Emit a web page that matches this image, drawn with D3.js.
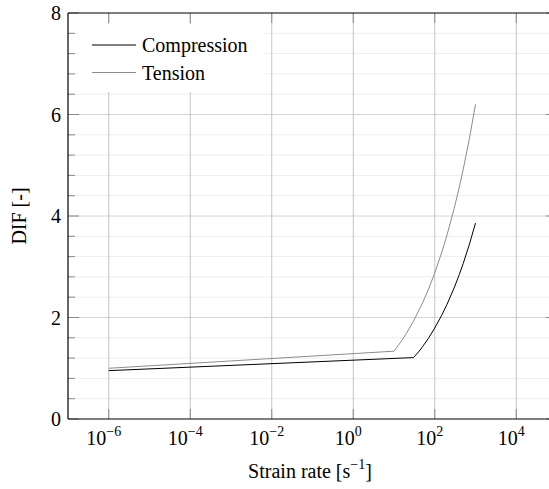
<!DOCTYPE html>
<html>
<head>
<meta charset="utf-8">
<script src="https://cdn.jsdelivr.net/npm/d3@7"></script>
<style>
    body { margin: 0; background: #fff; }
</style>
</head>
<body>
<svg id="dif_plot" width="549" height="489" font-family="'Liberation Serif', 'Times New Roman', Times, 'DejaVu Serif', serif"></svg>
<script>
// values
const seriesNames = ["Compression", "Tension"];

const compressionRate = [1e-6, 30, 40, 50, 70, 100, 150, 200, 300, 400, 500, 700, 1000];
const compressionDif  = [0.953, 1.21, 1.321, 1.423, 1.591, 1.793, 2.052, 2.259, 2.585, 2.845, 3.066, 3.429, 3.86];

const tensionRate = [1e-6, 10, 15, 20, 30, 50, 70, 100, 150, 200, 300, 400, 500, 700, 1000];
const tensionDif  = [1.0, 1.336, 1.529, 1.683, 1.926, 2.284, 2.555, 2.878, 3.294, 3.626, 4.15, 4.568, 4.921, 5.505, 6.2];

const xTicks      = [1e-6, 1e-4, 1e-2, 1e0, 1e2, 1e4];
const xTickExp    = ["\u22126", "\u22124", "\u22122", "0", "2", "4"];
const yTicks      = [0, 2, 4, 6, 8];
const yMinorTicks = d3.range(0, 8.01, 0.4).filter(v => Math.abs(v / 2 - Math.round(v / 2)) > 1e-6);

const svg = d3.select("#dif_plot");

const margin = { top: 13, left: 68 };
const plotRight  = 557;
const plotBottom = 419;

const x = d3.scaleLog()
    .domain([1e-7, 1e5])
    .range([margin.left, plotRight]);

const y = d3.scaleLinear()
    .domain([0, 8])
    .range([plotBottom, margin.top]);

// minor horizontal grid
svg.append("g").selectAll("line").data(yMinorTicks)
    .enter().append("line")
    .attr("x1", margin.left).attr("x2", plotRight)
    .attr("y1", d => y(d)).attr("y2", d => y(d))
    .attr("stroke", "#eeeeee").attr("stroke-width", 1);

// major grid
svg.append("g").selectAll("line").data(yTicks.slice(1, -1))
    .enter().append("line")
    .attr("x1", margin.left).attr("x2", plotRight)
    .attr("y1", d => y(d)).attr("y2", d => y(d))
    .attr("stroke", "#d4d4d4").attr("stroke-width", 1);

svg.append("g").selectAll("line").data(xTicks)
    .enter().append("line")
    .attr("x1", d => x(d)).attr("x2", d => x(d))
    .attr("y1", margin.top).attr("y2", plotBottom)
    .attr("stroke", "#c4c4c4").attr("stroke-width", 1);

// tick marks (inside, on all four sides)
const tickColor = "#8a8a8a";
const ticks = svg.append("g").attr("stroke", tickColor).attr("stroke-width", 1);
xTicks.forEach(d => {
    ticks.append("line").attr("x1", x(d)).attr("x2", x(d)).attr("y1", plotBottom).attr("y2", plotBottom - 10);
    ticks.append("line").attr("x1", x(d)).attr("x2", x(d)).attr("y1", margin.top).attr("y2", margin.top + 10);
});
yTicks.forEach(d => {
    ticks.append("line").attr("x1", margin.left).attr("x2", margin.left + 11).attr("y1", y(d)).attr("y2", y(d));
    ticks.append("line").attr("x1", plotRight).attr("x2", plotRight - 11).attr("y1", y(d)).attr("y2", y(d));
});
yMinorTicks.forEach(d => {
    ticks.append("line").attr("x1", margin.left).attr("x2", margin.left + 7).attr("y1", y(d)).attr("y2", y(d));
    ticks.append("line").attr("x1", plotRight).attr("x2", plotRight - 7).attr("y1", y(d)).attr("y2", y(d));
});

// legend background hides the grid behind it
svg.append("rect")
    .attr("x", 78).attr("y", 24)
    .attr("width", 186).attr("height", 68)
    .attr("fill", "#fff");

// curves
const line = d3.line()
    .x(d => x(d[0]))
    .y(d => y(d[1]));

const compression = compressionRate.map((r, i) => [r, compressionDif[i]]);
const tension     = tensionRate.map((r, i) => [r, tensionDif[i]]);

svg.append("path").datum(tension)
    .attr("d", line)
    .attr("fill", "none")
    .attr("stroke", "#8c8c8c")
    .attr("stroke-width", 1);

svg.append("path").datum(compression)
    .attr("d", line)
    .attr("fill", "none")
    .attr("stroke", "#000")
    .attr("stroke-width", 1);

// axis lines
svg.append("line")
    .attr("x1", margin.left).attr("x2", margin.left)
    .attr("y1", margin.top).attr("y2", plotBottom)
    .attr("stroke", "#000").attr("stroke-width", 1.2);
svg.append("line")
    .attr("x1", margin.left).attr("x2", plotRight)
    .attr("y1", plotBottom).attr("y2", plotBottom)
    .attr("stroke", "#000").attr("stroke-width", 1.2);
svg.append("line")
    .attr("x1", margin.left).attr("x2", plotRight)
    .attr("y1", margin.top).attr("y2", margin.top)
    .attr("stroke", "#000").attr("stroke-width", 1.2);

// tick labels
const xLabels = svg.append("g").selectAll("text").data(xTicks)
    .enter().append("text")
    .attr("x", d => x(d) - 5)
    .attr("y", 445)
    .attr("text-anchor", "middle")
    .attr("font-size", 20);
xLabels.append("tspan").text("10");
xLabels.append("tspan")
    .attr("dy", -9)
    .attr("font-size", 14)
    .text((d, i) => xTickExp[i]);

svg.append("g").selectAll("text").data(yTicks)
    .enter().append("text")
    .attr("x", 61)
    .attr("y", d => y(d) + 7)
    .attr("text-anchor", "end")
    .attr("font-size", 20)
    .text(d => d);

// axis titles
const xTitle = svg.append("text")
    .attr("x", 310)
    .attr("y", 478)
    .attr("text-anchor", "middle")
    .attr("font-size", 20);
xTitle.append("tspan").text("Strain rate [s");
xTitle.append("tspan").attr("dy", -9).attr("font-size", 14).text("\u22121");
xTitle.append("tspan").attr("dy", 9).text("]");

svg.append("text")
    .attr("transform", "translate(26,216) rotate(-90)")
    .attr("text-anchor", "middle")
    .attr("font-size", 20)
    .text("DIF [-]");

// legend
const legendColors = ["#000", "#8c8c8c"];
seriesNames.forEach((name, i) => {
    const ly = 45 + i * 27.5;
    svg.append("line")
        .attr("x1", 92).attr("x2", 136)
        .attr("y1", ly).attr("y2", ly)
        .attr("stroke", legendColors[i]).attr("stroke-width", 1);
    svg.append("text")
        .attr("x", 142)
        .attr("y", ly + 7)
        .attr("font-size", 20)
        .text(name);
});
</script>
</body>
</html>
